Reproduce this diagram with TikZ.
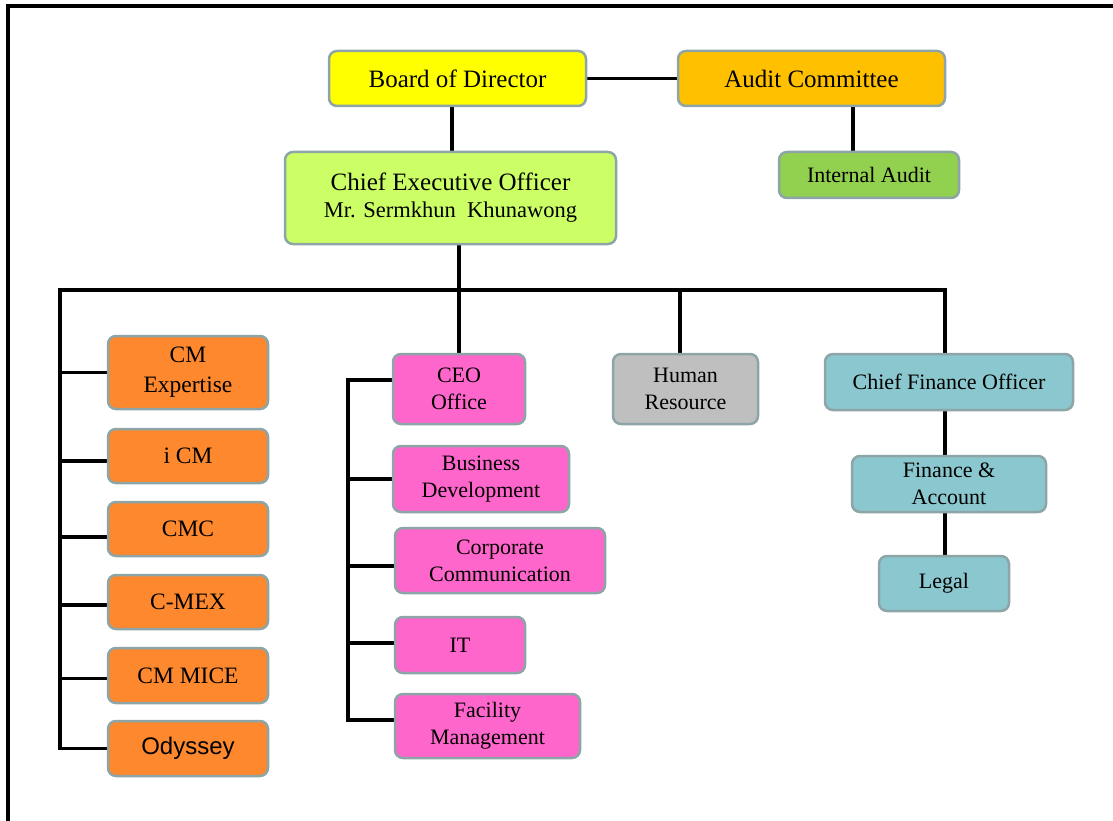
\documentclass[tikz,border=0pt]{standalone}
\usepackage{fontspec}
\setmainfont{Liberation Serif}
\newfontfamily\arialfam{Liberation Sans}
\usetikzlibrary{backgrounds}
\definecolor{boxline}{HTML}{8EA5A7}
\definecolor{cyellow}{HTML}{FFFF00}
\definecolor{caudit}{HTML}{FFC000}
\definecolor{cinaud}{HTML}{92D050}
\definecolor{cceo}{HTML}{CCFF66}
\definecolor{corange}{HTML}{FD882E}
\definecolor{cpink}{HTML}{FF66CC}
\definecolor{cgray}{HTML}{BFBFBF}
\definecolor{cteal}{HTML}{8BC7CE}
\newcommand\szbig{\fontsize{25}{30}\selectfont}
\newcommand\szmid{\fontsize{22}{27}\selectfont}
\newcommand\szorg{\fontsize{23.5}{30}\selectfont}
\newcommand\szsub{\fontsize{22.5}{26}\selectfont}
\begin{document}
\begin{tikzpicture}[x=1pt,y=-1pt,
  box/.style={draw=boxline, line width=2.5pt, rounded corners=8pt, align=center, inner sep=0pt, text=black},
  conn/.style={line width=3.5pt, black},
  frame/.style={line width=4pt, black}]
\useasboundingbox (0,0) rectangle (1113,821);
\draw[frame] (8,821) -- (8,6) -- (1113,6);

% top level
\node[box, fill=cyellow, minimum width=257, minimum height=55, font=\szbig] (board) at (457.5,78.5) {Board of Director};
\node[box, fill=caudit, minimum width=267, minimum height=55, font=\szbig] (audit) at (811.5,78.5) {Audit Committee};
\node[box, fill=cinaud, minimum width=180, minimum height=46, font=\szmid] (inaud) at (869,175) {Internal Audit};
\node[box, fill=cceo, minimum width=331, minimum height=92, font=\szbig] (ceo) at (450.5,198) {Chief Executive Officer\\[-3pt]{\szsub Mr. Sermkhun~~Khunawong}};

% left orange column
\node[box, fill=corange, minimum width=160, minimum height=73, font=\szorg] (cmexp) at (188,372.5) {CM\\Expertise};
\node[box, fill=corange, minimum width=160, minimum height=54, font=\szorg] (icm) at (188,456) {i CM};
\node[box, fill=corange, minimum width=160, minimum height=54, font=\szorg] (cmc) at (188,529) {CMC};
\node[box, fill=corange, minimum width=160, minimum height=54, font=\szorg] (cmex) at (188,602) {C-MEX};
\node[box, fill=corange, minimum width=160, minimum height=55, font=\szorg] (mice) at (188,675.5) {CM MICE};
\node[box, fill=corange, minimum width=160, minimum height=55, font=\arialfam\fontsize{24}{28}\selectfont] (ody) at (188,748.5) {Odyssey};

% pink column
\node[box, fill=cpink, minimum width=132, minimum height=70, font=\szmid] (ceooff) at (459,389) {CEO\\Office};
\node[box, fill=cpink, minimum width=176, minimum height=66, font=\szmid] (busdev) at (481,479) {Business\\Development};
\node[box, fill=cpink, minimum width=210, minimum height=65, font=\szmid] (corp) at (500,560.5) {Corporate\\Communication};
\node[box, fill=cpink, minimum width=130, minimum height=56, font=\szmid] (it) at (460,645) {IT};
\node[box, fill=cpink, minimum width=185, minimum height=64, font=\szmid] (fac) at (487.5,726) {Facility\\Management};

% HR
\node[box, fill=cgray, minimum width=145, minimum height=70, font=\szmid] (hr) at (685.5,389) {Human\\Resource};

% finance column
\node[box, fill=cteal, minimum width=248, minimum height=56, font=\szmid] (cfo) at (949,382) {Chief Finance Officer};
\node[box, fill=cteal, minimum width=194, minimum height=56, font=\szmid] (fin) at (949,484) {Finance \&\\Account};
\node[box, fill=cteal, minimum width=130, minimum height=55, font=\szmid] (legal) at (944,583.5) {Legal};

\coordinate (busL) at (60,290);
\coordinate (busR) at (945,290);
\coordinate (ceoV) at (348,380);

\begin{scope}[on background layer]
\draw[conn] (board.east) -- (audit.west);
\draw[conn] ([xshift=-5.5pt]board.south) -- ([xshift=1.5pt]ceo.north);
\draw[conn] ([xshift=41.5pt]audit.south) -- ([xshift=41.5pt]audit.south |- inaud.north);
\draw[conn] (ceooff.north) -- (ceooff.north |- ceo.south);
\draw[conn, line cap=rect] (busL) -- (busR);
\draw[conn] (busL) -- (busL |- ody.west) -- (ody.west);
\draw[conn] (busL |- cmexp.west) -- (cmexp.west);
\draw[conn] ([yshift=-5pt]busL |- icm.west) -- ([yshift=-5pt]icm.west);
\draw[conn] ([yshift=-8pt]busL |- cmc.west) -- ([yshift=-8pt]cmc.west);
\draw[conn] ([yshift=-3pt]busL |- cmex.west) -- ([yshift=-3pt]cmex.west);
\draw[conn] ([yshift=-3pt]busL |- mice.west) -- ([yshift=-3pt]mice.west);
\draw[conn] ([xshift=-5.5pt]hr.north) -- ([xshift=-5.5pt]hr.north |- busL);
\draw[conn] (busR) -- (busR |- cfo.north);
\draw[conn] (busR |- cfo.south) -- (busR |- fin.north);
\draw[conn] (busR |- fin.south) -- (busR |- legal.north);
\draw[conn] ([yshift=9pt]ceooff.west) -- (ceoV) -- ([yshift=6pt]ceoV |- fac.west) -- ([yshift=6pt]fac.west);
\draw[conn] (ceoV |- busdev.west) -- (busdev.west);
\draw[conn] ([yshift=-5.5pt]ceoV |- corp.west) -- ([yshift=-5.5pt]corp.west);
\draw[conn] ([yshift=2pt]ceoV |- it.west) -- ([yshift=2pt]it.west);
\end{scope}
\end{tikzpicture}
\end{document}
